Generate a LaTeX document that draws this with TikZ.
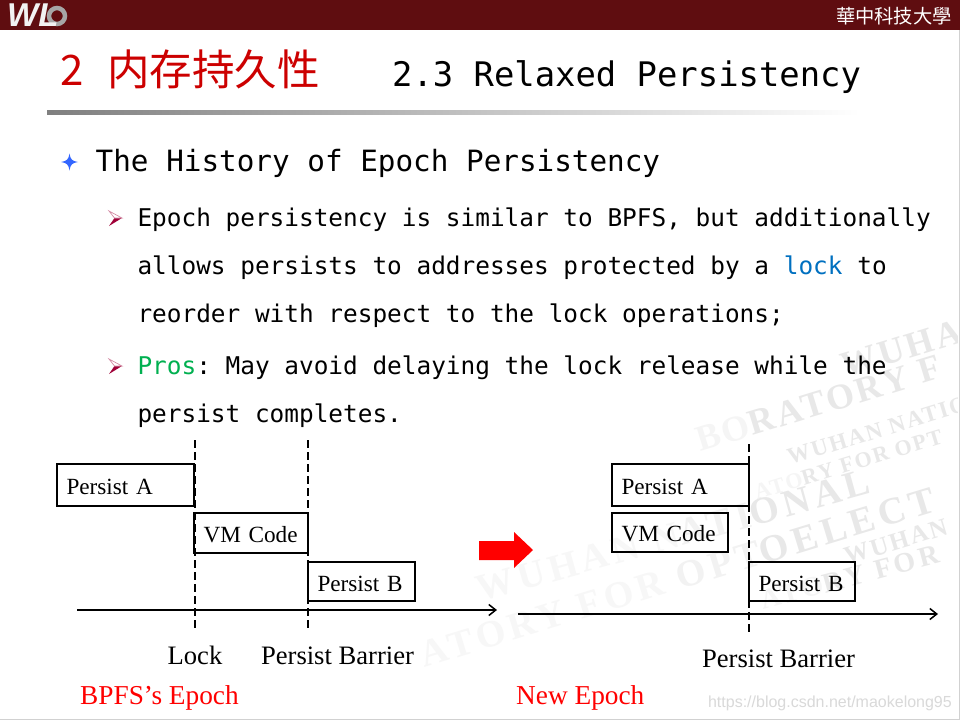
\documentclass[tikz,border=0pt]{standalone}
\usepackage{fontspec}
\setmainfont{Liberation Serif}
\setsansfont{Liberation Sans}
\setmonofont{DejaVu Sans Mono}
\newfontfamily\cjkfont{Noto Sans CJK SC}
\newfontfamily\cjktcfont{Noto Sans CJK TC}
\usetikzlibrary{arrows.meta,positioning,calc}
\definecolor{hdrred}{HTML}{5F0D10}
\definecolor{titlered}{HTML}{CC0000}
\definecolor{lockblue}{HTML}{0070C0}
\definecolor{prosgreen}{HTML}{00B050}
\definecolor{starblue}{HTML}{3366FF}
\definecolor{bulletred}{HTML}{A00038}
\newcommand{\subbullet}[2]{%
  \fill[bulletred] (#1+13,#2) -- (#1+5.5,#2) -- (#1,#2+8) -- cycle;
  \draw[bulletred!45, line width=.7pt, fill=white] (#1+13,#2) -- (#1+5.5,#2) -- (#1,#2-7) -- cycle;}
\newcommand{\wmfont}[2]{\fontsize{#1}{#1}\bfseries\addfontfeature{LetterSpace=#2}}

\begin{document}
\begin{tikzpicture}[
      x=1pt, y=-1pt,
      txt/.style={anchor=base west, inner sep=0pt, font=\fontsize{24.4}{29}\ttfamily},
      box/.style={draw, line width=1.5pt, inner xsep=9.5pt, inner ysep=0pt, outer sep=0pt, align=left,
                  anchor=north west, text height=18pt, text depth=0pt, font=\fontsize{23.2}{28}\selectfont},
      lowbox/.style={box, text height=19.6pt},
      lbl/.style={inner sep=0pt, font=\fontsize{26.6}{32}\selectfont},
      epoch/.style={inner sep=0pt, font=\fontsize{27.3}{32}\selectfont, text=red, anchor=base west},
      arr/.style={-{Straight Barb[length=7pt,width=11pt]}, line width=1.5pt},
      barrier/.style={line width=1.5pt, dash pattern=on 8pt off 4pt},
      wmark/.style={anchor=base west, inner sep=0pt, text=black!9, rotate=17}
    ]
    \useasboundingbox (0,0) rectangle (960,720);
    \fill[white] (0,0) rectangle (960,720);

    % watermark
    \begin{scope}
      \clip (0,120) rectangle (957,717);
      \node[wmark, font=\wmfont{36}{8}] (wm1) at (700,452) {\textcolor{black!4}{BO}RATORY F};
      \node[wmark, font=\wmfont{36}{8}] (wm2) at (845,378) {WUHAN};
      \node[wmark, font=\wmfont{23}{8}] (wm3) at (790,465) {WUHAN NATIONAL};
      \node[wmark, font=\wmfont{22}{8}] (wm4) at (757,500) {\textcolor{black!4}{ATO}RY FOR OPT};
      \node[wmark, font=\wmfont{38}{12}, rotate=-1.5] (wm5) at (480,602)
        {\textcolor{black!3}{WUHAN N}\textcolor{black!5}{ATI}ONAL};
      \node[wmark, font=\wmfont{38}{12}] (wm6) at (424,668)
        {\textcolor{black!3}{ATORY FOR }\textcolor{black!5}{OPT}OELECT};
      \node[wmark, font=\wmfont{25}{8}] (wm7) at (847,565) {WUHAN};
      \node[wmark, font=\wmfont{28}{12}, rotate=-2] (wm8) at (763,610) {\textcolor{black!4}{ATO}RY FOR};
    \end{scope}
    \draw[black!18, line width=1pt] (959,29) -- (959,719) -- (0,719);

    % header
    \fill[hdrred] (0,0) rectangle (960,29.5);
    \draw[black!35, line width=4.5pt] (57,16) circle (8);
    \node[inner sep=0pt, anchor=base west, text=white!95!black,
          font=\fontsize{33}{33}\sffamily\bfseries\itshape] (logo) at (7,27) {WL};
    \node[inner sep=0pt, anchor=base east, text=white,
          font=\fontsize{19.3}{20}\cjktcfont] (univ) at (952,23) {華中科技大學};

    % title
    \node[inner sep=0pt, anchor=base west, text=titlered,
          font=\fontsize{42}{48}\cjkfont] (titlenum) at (60,85) {2};
    \node[inner sep=0pt, anchor=base west, text=titlered,
          font=\fontsize{42.5}{48}\cjkfont] (titlecn) at (107,85) {内存持久性};
    \node[txt, font=\fontsize{33.85}{40}\ttfamily] (titleen) at (392,86) {2.3 Relaxed Persistency};
    \shade[left color=black!50, right color=white] (47,110.5) rectangle (860,114.5);

    % bullets
    \fill[starblue] (69.5,153.5) .. controls (70.5,159.5) and (72,161) .. (78,162)
      .. controls (72,163) and (70.5,164.5) .. (69.5,170.5)
      .. controls (68.5,164.5) and (67,163) .. (61,162)
      .. controls (67,161) and (68.5,159.5) .. (69.5,153.5) -- cycle;
    \node[txt, font=\fontsize{29.3}{35}\ttfamily] (head) at (95.5,171) {The History of Epoch Persistency};
    \subbullet{109}{218}
    \node[txt] (line1) at (137.3,226) {Epoch persistency is similar to BPFS, but additionally};
    \node[txt] (line2) at (137.3,274) {allows persists to addresses protected by a \textcolor{lockblue}{lock} to};
    \node[txt] (line3) at (137.3,322) {reorder with respect to the lock operations;};
    \subbullet{109}{366}
    \node[txt] (line4) at (137.3,374) {\textcolor{prosgreen}{Pros}: May avoid delaying the lock release while the};
    \node[txt] (line5) at (137.3,422) {persist completes.};

    % BPFS timeline
    \node[box, minimum height=42pt, text width=118pt] (pa1) at (57,464) {Persist A};
    \node[box, minimum height=40pt, text width=95pt, below right=7pt and 0pt of pa1.south east] (vm1) {VM Code};
    \node[lowbox, minimum height=39pt, text width=88pt, below right=9pt and 0pt of vm1.south east] (pb1) {Persist B};
    \coordinate (lock1top) at (195,440);
    \coordinate (lock1bot) at (195,630);
    \coordinate (bar1top) at (308,440);
    \coordinate (bar1bot) at (308,630);
    \coordinate (axis1a) at (77,610);
    \coordinate (axis1b) at (497,610);
    \draw[barrier] (lock1top) -- (lock1bot);
    \draw[barrier] (bar1top) -- (bar1bot);
    \draw[arr] (axis1a) -- (axis1b);
    \node[lbl, anchor=base] (lock1) at (195,664) {Lock};
    \node[lbl, anchor=base] (bar1) at (337.5,664) {Persist Barrier};
    \node[epoch] (bpfs) at (80,704) {BPFS’s Epoch};

    % change arrow
    \fill[red] (479,541) -- (514,541) -- (514,532) -- (533,550) -- (514,568)
      -- (514,560) -- (479,560) -- cycle;

    % new timeline
    \node[box, minimum height=42pt, text width=118pt] (pa2) at (612,464) {Persist A};
    \node[box, minimum height=39pt, text width=97pt, below=7pt of pa2.south west, anchor=north west] (vm2) {VM Code};
    \node[lowbox, minimum height=39pt, text width=87pt] (pb2) at (749,562) {Persist B};
    \coordinate (bar2top) at (749,444);
    \coordinate (bar2bot) at (749,634);
    \coordinate (axis2a) at (518,614);
    \coordinate (axis2b) at (938,614);
    \draw[barrier] (bar2top) -- (bar2bot);
    \draw[arr] (axis2a) -- (axis2b);
    \node[lbl, anchor=base] (bar2) at (778.5,667) {Persist Barrier};
    \node[epoch] (newep) at (516,704) {New Epoch};

    % site mark
    \node[inner sep=0pt, anchor=base east, text=black!15,
          font=\fontsize{16}{20}\sffamily] (site) at (952,707) {https://blog.csdn.net/maokelong95};
\end{tikzpicture}
\end{document}
